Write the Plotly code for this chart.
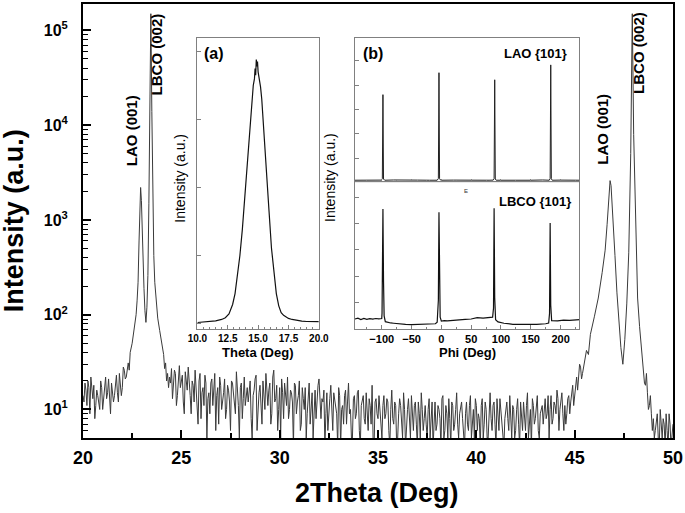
import numpy as np
import plotly.graph_objects as go

# ---------------- main XRD scan (2theta, intensity) ----------------
# background 20.0 - 22.1 (step 0.1) and the half steps 20.05 - 22.05
bg_a_start, bg_a_stop = 20.0, 22.1
bg_a_counts = [14, 19, 11, 17, 22, 13, 8, 16, 12, 20, 10, 18, 13, 21, 9, 16, 14, 23, 12, 19, 17, 26]
bg_a_half_counts = [12, 16, 20, 9, 15, 18, 11, 14, 10, 17, 13, 22, 15, 11, 19, 12, 20, 15, 24, 14, 28]

# LAO (001) / LBCO (002) near 23 deg
peak1_theta = [22.15, 22.2, 22.25, 22.3, 22.35, 22.4, 22.5, 22.6, 22.7, 22.75, 22.8, 22.85, 22.9, 22.93,
               22.97, 23.0, 23.05, 23.1, 23.15, 23.2, 23.25, 23.3, 23.35, 23.4, 23.45, 23.5, 23.55, 23.6,
               23.65, 23.7, 23.8, 23.9, 24.0, 24.1, 24.15, 24.2, 24.25, 24.3, 24.35]
peak1_counts = [21, 22, 29, 31, 26, 40, 50, 68, 100, 140, 220, 600, 1500, 2200,
                1600, 900, 380, 190, 110, 83, 120, 260, 1500, 16000, 150000, 14000, 1600, 420,
                220, 150, 92, 68, 52, 38, 27, 31, 20, 24, 17]

# background 24.4 - 44.4 (step 0.1)
bg_b_start, bg_b_stop = 24.4, 44.4
bg_b_counts = [22, 27, 17, 24, 14, 29, 19, 12, 25, 16,
               21, 9, 18, 26, 13, 20, 8, 17, 23, 5,
               15, 19, 11, 24, 14, 7, 18, 12, 21, 10,
               16, 6, 19, 13, 25, 11, 17, 8, 22, 14,
               12, 20, 5, 16, 23, 10, 18, 7, 15, 24,
               11, 19, 9, 26, 13, 6, 17, 21, 8, 14,
               22, 10, 15, 4, 18, 12, 20, 7, 13, 17,
               9, 19, 11, 5, 16, 13, 21, 8, 12, 4,
               15, 10, 18, 6, 13, 9, 17, 4, 11, 14,
               7, 19, 10, 5, 14, 9, 16, 4, 12, 8,
               15, 6, 11, 18, 4, 13, 8, 10, 5, 14,
               9, 12, 4, 16, 7, 11, 5, 13, 8, 15,
               4, 10, 7, 14, 6, 12, 4, 9, 15, 6,
               11, 5, 13, 8, 4, 12, 7, 10, 4, 14,
               6, 9, 13, 4, 11, 7, 15, 5, 10, 8,
               4, 12, 6, 14, 8, 5, 11, 9, 4, 13,
               7, 10, 5, 15, 6, 12, 4, 9, 13, 7,
               4, 11, 8, 14, 5, 10, 6, 13, 4, 9,
               12, 6, 15, 7, 4, 11, 8, 14, 5, 10,
               7, 13, 9, 5, 14, 8, 11, 16, 6, 12,
               9]
# half steps 24.45 - 44.35
bg_b_half_counts = [19, 13, 26, 11, 21, 17, 23, 9, 18, 28,
                    14, 20, 12, 16, 7, 24, 15, 11, 19, 13,
                    9, 21, 16, 6, 17, 22, 10, 15, 8, 18,
                    12, 20, 14, 9, 16, 5, 19, 13, 11, 17,
                    18, 8, 14, 21, 6, 15, 12, 20, 10, 13,
                    16, 7, 22, 12, 18, 10, 5, 15, 19, 11,
                    8, 16, 12, 19, 9, 14, 6, 17, 10, 5,
                    14, 7, 15, 12, 8, 18, 10, 13, 16, 9,
                    6, 13, 9, 15, 11, 4, 14, 10, 7, 16,
                    12, 9, 5, 13, 8, 15, 6, 11, 14, 7,
                    10, 13, 7, 5, 12, 9, 14, 6, 11, 8,
                    13, 6, 10, 8, 12, 4, 9, 11, 5, 10,
                    8, 13, 5, 9, 11, 7, 12, 5, 10, 8,
                    7, 10, 5, 12, 9, 6, 11, 8, 13, 5,
                    11, 5, 8, 12, 6, 10, 7, 9, 12, 5,
                    9, 7, 11, 5, 10, 13, 6, 8, 11, 5,
                    12, 5, 9, 8, 11, 7, 13, 6, 10, 5,
                    8, 12, 6, 9, 11, 5, 10, 7, 12, 6,
                    9, 11, 5, 10, 13, 7, 12, 6, 9, 11,
                    11, 8, 14, 10, 7, 12, 9, 13, 10, 15]

# LAO (001) / LBCO (002) near 47 deg
peak2_theta = [44.45, 44.5, 44.55, 44.6, 44.65, 44.7, 44.75, 44.8, 44.85, 44.9, 44.95, 45.0, 45.05, 45.1,
               45.15, 45.2, 45.25, 45.3, 45.35, 45.4, 45.5, 45.6, 45.7, 45.8, 46.0, 46.2, 46.4,
               46.55, 46.65, 46.75, 46.8, 46.85, 46.95, 47.05, 47.15, 47.25, 47.35, 47.45, 47.55, 47.65,
               47.75, 47.85, 47.93, 48.0, 48.1, 48.2, 48.3, 48.4, 48.45, 48.5, 48.55, 48.6, 48.65, 48.7,
               48.75, 48.8, 48.85, 48.9, 48.95, 49.0, 49.05]
peak2_counts = [6, 11, 7, 9, 13, 14, 9, 12, 16, 18, 11, 15, 19, 22,
                16, 26, 30, 28, 21, 24, 33, 42, 38, 62, 95, 150, 280,
                480, 900, 2000, 2600, 2300, 1100, 420, 170, 80, 45, 30, 55, 130,
                450, 5000, 150000, 8000, 700, 150, 75, 40, 35, 26, 19, 18, 24, 15,
                10, 11, 14, 9, 6, 8, 5]

# background 49.1 - 50.0 (step 0.1) and half steps 49.15 - 49.95
bg_c_start, bg_c_stop = 49.1, 50.0
bg_c_counts = [6, 9, 4, 7, 8, 4, 6, 9, 4, 7]
bg_c_half_counts = [8, 5, 10, 5, 7, 9, 4, 7, 5]

# ---------------- inset (a): rocking curve ----------------
rock_theta = [10.0, 10.5, 11.0, 11.5, 12.0, 12.3, 12.6, 12.9, 13.1, 13.3, 13.5, 13.7, 13.9, 14.1, 14.3,
              14.5, 14.6, 14.7, 14.75, 14.8, 14.85, 14.9, 14.95, 15.0, 15.1, 15.2, 15.3, 15.5, 15.7,
              15.9, 16.1, 16.3, 16.5, 16.7, 16.9, 17.1, 17.3, 17.5, 17.8, 18.2, 18.6, 19.0, 19.5, 20.0]
rock_counts = [15, 20, 30, 40, 60, 85, 140, 280, 440, 690, 1000, 1380, 1850, 2350, 2850,
               3300, 3500, 3600, 3750, 3650, 3880, 3780, 3850, 3700, 3600, 3480, 3300, 2800, 2230,
               1650, 1110, 720, 440, 260, 160, 120, 95, 75, 60, 45, 35, 30, 25, 28]

# ---------------- inset (b): phi scans ----------------
lao_phi = [-145, -130, -115, -101, -99, -98, -97, -95, -80, -60, -40, -20, -7, -5, -4, -3, -1,
           20, 40, 60, 80, 87, 88.5, 89.5, 90.5, 92, 110, 130, 150, 170, 181, 182.5, 183.5, 184.5,
           186, 200, 215, 232]
lao_counts = [100, 110, 95, 105, 160, 3610, 150, 100, 110, 95, 105, 100, 100, 170, 4510, 160, 100,
              105, 95, 110, 100, 105, 160, 4220, 150, 100, 95, 105, 100, 110, 100, 170, 4830, 160,
              100, 105, 95, 100]

lbco_phi = [-145, -140, -135, -130, -125, -120, -115, -110, -105, -100, -99.5, -99, -98, -97, -96,
            -94, -90, -85, -80, -70, -60, -50, -40, -30, -20, -10, -7, -6, -5, -4, -3, -2, 0, 5,
            10, 20, 30, 40, 50, 60, 70, 80, 86, 87.5, 88.5, 89.5, 91, 95, 105, 120, 140, 160, 175,
            180, 181.5, 182.5, 183.5, 185, 195, 205, 215, 225, 232]
lbco_counts = [380, 410, 360, 400, 370, 395, 375, 400, 385, 400, 600, 2000, 4550, 1800, 500,
               280, 250, 230, 220, 190, 180, 170, 175, 165, 185, 200, 260, 600, 1100, 4430, 1500,
               450, 300, 320, 310, 335, 350, 365, 380, 430, 415, 440, 450, 800, 4580, 1200, 350,
               270, 220, 180, 170, 175, 200, 230, 600, 4020, 900, 320, 310, 340, 330, 355, 360]

# ---------------- assemble main scan ----------------
def grid(start, stop, step=0.1):
    return np.round(np.arange(start, stop + 0.001, step), 2)

two_theta = np.concatenate([
    grid(bg_a_start, bg_a_stop), grid(bg_a_start + 0.05, bg_a_stop - 0.05),
    peak1_theta,
    grid(bg_b_start, bg_b_stop), grid(bg_b_start + 0.05, bg_b_stop - 0.05),
    peak2_theta,
    grid(bg_c_start, bg_c_stop), grid(bg_c_start + 0.05, bg_c_stop - 0.05),
])
intensity = np.concatenate([bg_a_counts, bg_a_half_counts, peak1_counts,
                            bg_b_counts, bg_b_half_counts, peak2_counts,
                            bg_c_counts, bg_c_half_counts]).astype(float)
order = np.argsort(two_theta, kind="stable")
two_theta, intensity = two_theta[order], intensity[order]

FONT = "Arial, 'Liberation Sans', sans-serif"

fig = go.Figure()
fig.add_trace(go.Scatter(x=two_theta, y=intensity, mode="lines",
                         line=dict(color="#3a3a3a", width=1), xaxis="x", yaxis="y"))
fig.add_trace(go.Scatter(x=rock_theta, y=rock_counts, mode="lines",
                         line=dict(color="#111", width=1.2), xaxis="x2", yaxis="y2"))
fig.add_trace(go.Scatter(x=lao_phi, y=lao_counts, mode="lines",
                         line=dict(color="#222", width=1), xaxis="x3", yaxis="y3"))
fig.add_trace(go.Scatter(x=lbco_phi, y=lbco_counts, mode="lines",
                         line=dict(color="#111", width=1.2), xaxis="x4", yaxis="y4"))

# paper coordinates helpers (plot area 83..676 px x, 2..438 px y)
def px(xp):
    return (xp - 83) / 593.0

def py(yp):
    return (438 - yp) / 436.0

minor_y = [k * 10 ** n for n in range(0, 6) for k in range(2, 10) if 5 <= k * 10 ** n <= 1.9e5]

inset_a_x = [px(198), px(320)]
inset_b_x = [px(356), px(582)]
inset_y_bottom, inset_y_mid, inset_y_top = py(328), py(181), py(36)

gray = "#808080"
fig.update_layout(
    width=685, height=513,
    margin=dict(l=83, r=9, t=2, b=75),
    paper_bgcolor="white", plot_bgcolor="white",
    showlegend=False,
    font=dict(family=FONT, color="black"),
    xaxis=dict(domain=[0, 1], range=[20, 50], tickvals=[20, 25, 30, 35, 40, 45, 50],
               ticks="inside", ticklen=8, tickwidth=1.5, tickcolor="black",
               minor=dict(tickvals=[22.5, 27.5, 32.5, 37.5, 42.5, 47.5], ticks="inside", ticklen=5,
                          tickwidth=1.5, tickcolor="black", showgrid=False),
               showline=True, linewidth=2, linecolor="black", mirror=True,
               showgrid=False, zeroline=False, ticklabelstandoff=2,
               tickfont=dict(size=18, weight="bold", family=FONT)),
    yaxis=dict(domain=[0, 1], type="log", range=[np.log10(5), np.log10(1.9e5)],
               tickvals=[10, 100, 1000, 10000, 100000],
               ticktext=["10<sup>1</sup>", "10<sup>2</sup>", "10<sup>3</sup>", "10<sup>4</sup>", "10<sup>5</sup>"],
               ticks="inside", ticklen=8, tickwidth=1.5, tickcolor="black",
               minor=dict(tickvals=minor_y, ticks="inside", ticklen=5, tickwidth=1.2,
                          tickcolor="black", showgrid=False),
               showline=True, linewidth=2, linecolor="black", mirror=True,
               showgrid=False, zeroline=False, ticklabelstandoff=10,
               tickfont=dict(size=16, weight="bold", family=FONT)),
    # inset (a)
    xaxis2=dict(domain=inset_a_x, anchor="y2", range=[10, 20], tickvals=[10, 12.5, 15, 17.5, 20],
                ticktext=["10.0", "12.5", "15.0", "17.5", "20.0"],
                ticks="inside", ticklen=4, tickcolor=gray,
                minor=dict(dtick=0.5, tick0=10, ticks="inside", ticklen=2, tickcolor=gray),
                showline=True, linewidth=1, linecolor=gray, mirror=True,
                showgrid=False, zeroline=False, ticklabelstandoff=0,
                tickfont=dict(size=10, weight="bold", family=FONT)),
    yaxis2=dict(domain=[inset_y_bottom, inset_y_top], anchor="x2", range=[-73, 4200],
                tickvals=[0, 1000, 2000, 3000, 4000], showticklabels=False,
                ticks="inside", ticklen=4, tickcolor=gray,
                showline=True, linewidth=1, linecolor=gray, mirror=True,
                showgrid=False, zeroline=False),
    # inset (b) top
    xaxis3=dict(domain=inset_b_x, anchor="y3", range=[-145.5, 231.7], matches="x4",
                dtick=50, tick0=0, showticklabels=False,
                ticks="inside", ticklen=3, tickcolor=gray,
                minor=dict(dtick=25, tick0=0, ticks="inside", ticklen=2, tickcolor=gray),
                showline=True, linewidth=1, linecolor=gray, mirror=True,
                showgrid=False, zeroline=False),
    yaxis3=dict(domain=[inset_y_mid, inset_y_top], anchor="x3", range=[20, 5940],
                tickvals=[1000, 2000, 3000, 4000, 5000], showticklabels=False,
                ticks="inside", ticklen=4, tickcolor=gray,
                showline=True, linewidth=1, linecolor=gray, mirror=True,
                showgrid=False, zeroline=False),
    # inset (b) bottom
    xaxis4=dict(domain=inset_b_x, anchor="y4", range=[-145.5, 231.7],
                dtick=50, tick0=0,
                ticks="inside", ticklen=4, tickcolor=gray,
                minor=dict(dtick=25, tick0=0, ticks="inside", ticklen=2, tickcolor=gray),
                showline=True, linewidth=1, linecolor=gray, mirror=True,
                showgrid=False, zeroline=False, ticklabelstandoff=0,
                tickfont=dict(size=11, weight="bold", family=FONT)),
    yaxis4=dict(domain=[inset_y_bottom, inset_y_mid], anchor="x4", range=[20, 5570],
                tickvals=[1000, 2000, 3000, 4000, 5000], showticklabels=False,
                ticks="inside", ticklen=4, tickcolor=gray,
                showline=True, linewidth=1, linecolor=gray, mirror=True,
                showgrid=False, zeroline=False),
)

def note(text, x, y, size, bold=True, angle=0, color="black"):
    fig.add_annotation(text=f"<b>{text}</b>" if bold else text, x=x, y=y, xref="paper", yref="paper",
                       showarrow=False, textangle=angle, xanchor="center", yanchor="middle",
                       font=dict(size=size, family=FONT, color=color))

# main titles
note("Intensity (a.u.)", px(14), py(220), 27, angle=-90)
note("2Theta (Deg)", px(378), py(493), 27)
# peak labels
note("LAO (001)", px(132), py(129), 15, angle=-90)
note("LBCO (002)", px(157), py(53), 15, angle=-90)
note("LAO (001)", px(605), py(128), 15, angle=-90)
note("LBCO (002)", px(642), py(51), 15, angle=-90)
# inset texts
note("(a)", px(215), py(52), 16)
note("(b)", px(374), py(52), 16)
note("LAO {101}", px(538), py(52), 13)
note("LBCO {101}", px(537), py(200), 13)
note("E", px(468), py(190), 6, bold=False, color="#333")
note("Intensity (a.u.)", px(181), py(177), 14, bold=False, angle=-90)
note("Intensity (a.u.)", px(331), py(176), 14, bold=False, angle=-90)
note("Theta (Deg)", px(259), py(352), 13)
note("Phi (Deg)", px(469), py(352), 13)

fig.write_html("out.html", config={"displayModeBar": False},
               post_script="document.body.style.margin='0px';")
